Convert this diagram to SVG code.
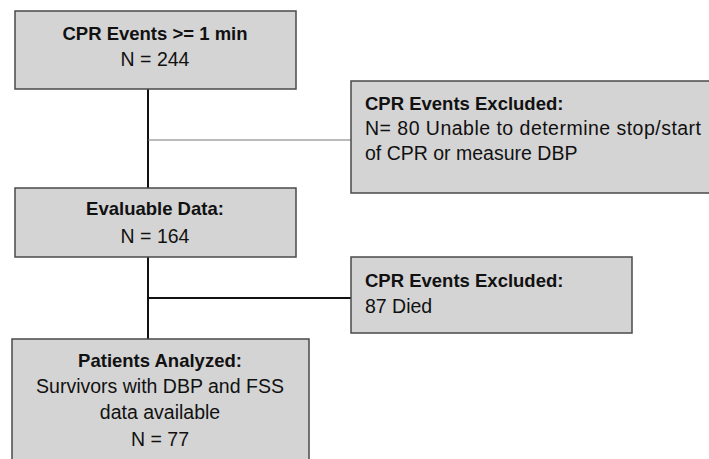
<svg xmlns="http://www.w3.org/2000/svg" width="709" height="459" viewBox="0 0 709 459">
<style>
.box{fill:#d4d4d4;stroke:#4a4a4a;stroke-width:1.5}
text{font-family:"Liberation Sans",Arial,sans-serif;font-size:19.5px;fill:#111}
.b{font-weight:bold;font-size:18.5px}
.c{text-anchor:middle}
</style>
<rect width="709" height="459" fill="#fff"/>
<g id="connectors" stroke="#111" fill="none">
<line x1="148" y1="89" x2="148" y2="188" stroke-width="2"/>
<line x1="148" y1="140" x2="351" y2="140" stroke="#777" stroke-width="1"/>
<line x1="148" y1="257" x2="148" y2="339" stroke-width="2"/>
<line x1="148" y1="298" x2="351" y2="298" stroke-width="2"/>
</g>
<g id="n1">
<rect class="box" x="15" y="11" width="281" height="78"/>
<text class="b c" x="155" y="40">CPR Events &gt;= 1 min</text>
<text class="c" x="155" y="66">N = 244</text>
</g>
<g id="n2">
<rect class="box" x="351" y="81" width="360" height="112"/>
<text class="b" x="365" y="110">CPR Events Excluded:</text>
<text x="365" y="135" textLength="336" lengthAdjust="spacing">N= 80 Unable to determine stop/start</text>
<text x="365" y="160">of CPR or measure DBP</text>
</g>
<g id="n3">
<rect class="box" x="15" y="188" width="281" height="69"/>
<text class="b c" x="155" y="215">Evaluable Data:</text>
<text class="c" x="155" y="243">N = 164</text>
</g>
<g id="n4">
<rect class="box" x="351" y="257" width="281" height="76"/>
<text class="b" x="365" y="287">CPR Events Excluded:</text>
<text x="365" y="313">87 Died</text>
</g>
<g id="n5">
<rect class="box" x="12" y="339" width="297" height="125"/>
<text class="b c" x="160" y="367">Patients Analyzed:</text>
<text class="c" x="160" y="393">Survivors with DBP and FSS</text>
<text class="c" x="160" y="419">data available</text>
<text class="c" x="160" y="446">N = 77</text>
</g>
</svg>
